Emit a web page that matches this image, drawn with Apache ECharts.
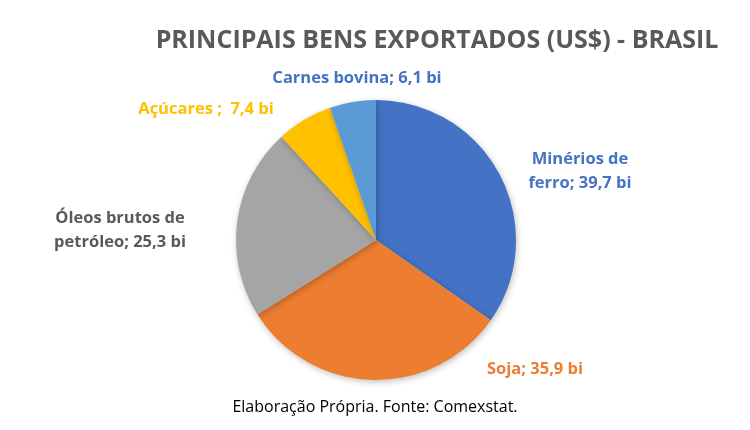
<!DOCTYPE html>
<html><head><meta charset="utf-8">
<script src="https://cdn.jsdelivr.net/npm/echarts@6/dist/echarts.min.js"></script>
<style>html,body{margin:0;padding:0;background:#fff}#c{width:750px;height:430px}</style>
</head><body><div id="c"></div>
<script>
const categories = ['Minérios de ferro', 'Soja', 'Óleos brutos de petróleo', 'Açúcares', 'Carnes bovina'];
const values = [39.7, 35.9, 25.3, 7.4, 6.1];
const labelTexts = ['Minérios de\nferro; 39,7 bi', 'Soja; 35,9 bi', 'Óleos brutos de\npetróleo; 25,3 bi', 'Açúcares ;  7,4 bi', 'Carnes bovina; 6,1 bi'];
const colors = ['#4472C4', '#ED7D31', '#A5A5A5', '#FFC000', '#5B9BD5'];
const labelColors = ['#4472C4', '#ED7D31', '#595959', '#FFC000', '#4472C4'];
const labelPos = [
  {x: 580, y: 171},
  {x: 535, y: 369},
  {x: 120, y: 230},
  {x: 206, y: 109},
  {x: 357, y: 78}
];
const FONT = '"Open Sans", "Noto Sans", sans-serif';
const chart = echarts.init(document.getElementById('c'));
chart.setOption({
  animation: false,
  title: {
    text: 'PRINCIPAIS BENS EXPORTADOS (US$) - BRASIL',
    left: 432, top: 23, textAlign: 'center',
    textStyle: {fontFamily: FONT, fontSize: 25, fontWeight: 'bold', color: '#595959'}
  },
  graphic: [{
    type: 'text', left: 'center', top: 399,
    style: {text: 'Elaboração Própria. Fonte: Comexstat.', fontFamily: FONT, fontSize: 16, fill: '#000'}
  }],
  series: [{
    type: 'pie',
    center: [376, 240],
    radius: 140,
    startAngle: 90,
    clockwise: true,
    data: categories.map((c, i) => ({
      name: c, value: values[i],
      itemStyle: {color: colors[i]},
      label: {color: labelColors[i], formatter: labelTexts[i]}
    })),
    itemStyle: {borderWidth: 0, shadowBlur: 6, shadowColor: 'rgba(0,0,0,0.25)', shadowOffsetX: 1, shadowOffsetY: 2},
    label: {
      show: true, position: 'outside',
      fontFamily: FONT, fontSize: 16.5, fontWeight: 'bold', lineHeight: 24
    },
    labelLine: {show: false},
    labelLayout: function (p) {
      const l = labelPos[p.dataIndex];
      return {x: l.x, y: l.y, align: 'center', verticalAlign: 'middle'};
    }
  }]
});
</script></body></html>
